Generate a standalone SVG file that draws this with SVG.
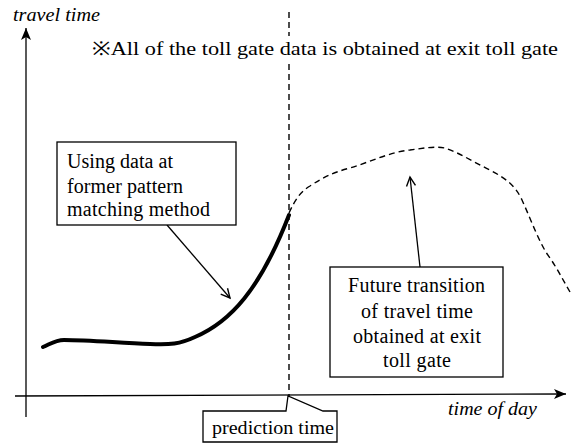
<svg xmlns="http://www.w3.org/2000/svg" width="574" height="443" viewBox="0 0 574 443">
<defs>
<style>
.t{font-family:"Liberation Serif","Times New Roman",serif;fill:#000}
.it{font-style:italic}
.box{fill:#fff;stroke:#000;stroke-width:1.3}
.ln{fill:none;stroke:#000;stroke-width:1.3}
.dash{fill:none;stroke:#000;stroke-width:1.4;stroke-dasharray:6 4}
</style>
<marker id="ah" markerWidth="12" markerHeight="12" refX="10" refY="6" orient="auto" markerUnits="userSpaceOnUse">
<path d="M1,1.5 L10,6 L1,10.5" fill="none" stroke="#000" stroke-width="1.4"/>
</marker>
<marker id="axh" markerWidth="14" markerHeight="12" refX="12" refY="6" orient="auto" markerUnits="userSpaceOnUse">
<path d="M0,1 L12,6 L0,11 L3,6 Z" fill="#000"/>
</marker>
</defs>
<rect width="574" height="443" fill="#fff"/>
<g id="connectors">
<line class="ln" x1="26" y1="417" x2="26" y2="28" marker-end="url(#axh)"/>
<line class="ln" x1="15" y1="396" x2="566" y2="394" marker-end="url(#axh)"/>
<line class="dash" x1="289" y1="12" x2="289" y2="36"/>
<line class="dash" x1="289" y1="64" x2="289" y2="396"/>
<path d="M43,347 C52,343 56,340 64,340 C90,340 120,343 150,344 C170,345 180,344 195,337 C230,322 260,290 289,215" fill="none" stroke="#000" stroke-width="4" stroke-linecap="round"/>
<path class="dash" d="M289,213 C295,200 300,192 310,186 C325,176 335,172 350,168 C370,162 390,152 410,150 C425,148 435,146 445,148 C460,153 475,163 490,170 C505,178 515,185 522,200 C532,222 540,245 550,258 C558,270 563,280 570,292"/>
<line class="ln" x1="167" y1="225" x2="230" y2="298" marker-end="url(#ah)"/>
<line class="ln" x1="420" y1="267" x2="410" y2="177" marker-end="url(#ah)"/>
</g>
<g id="axis-labels">
<text class="t it" x="13" y="21" font-size="18" textLength="87" lengthAdjust="spacingAndGlyphs">travel time</text>
<text class="t it" x="448" y="415" font-size="18" textLength="89" lengthAdjust="spacingAndGlyphs">time of day</text>
</g>
<g id="note">
<text class="t" x="92" y="55" font-size="19" textLength="466" lengthAdjust="spacingAndGlyphs">※All of the toll gate data is obtained at exit toll gate</text>
</g>
<g id="box-former">
<rect class="box" x="57" y="142" width="179" height="83"/>
<text class="t" font-size="20" lengthAdjust="spacingAndGlyphs"><tspan x="67" y="168" textLength="106">Using data at</tspan><tspan x="67" y="193" textLength="116">former pattern</tspan><tspan x="67" y="216" textLength="143">matching method</tspan></text>
</g>
<g id="box-future">
<rect class="box" x="330" y="267" width="173" height="110"/>
<text class="t" font-size="20" lengthAdjust="spacingAndGlyphs"><tspan x="348" y="292" textLength="137">Future transition</tspan><tspan x="361" y="318" textLength="112">of travel time</tspan><tspan x="353" y="343" textLength="128">obtained at exit</tspan><tspan x="383" y="367" textLength="68">toll gate</tspan></text>
</g>
<g id="box-prediction">
<path class="box" d="M203,411 H286 L288,396 L323,411 H337 V442 H203 Z"/>
<text class="t" x="212" y="434" font-size="19" textLength="122" lengthAdjust="spacingAndGlyphs">prediction time</text>
</g>
</svg>
